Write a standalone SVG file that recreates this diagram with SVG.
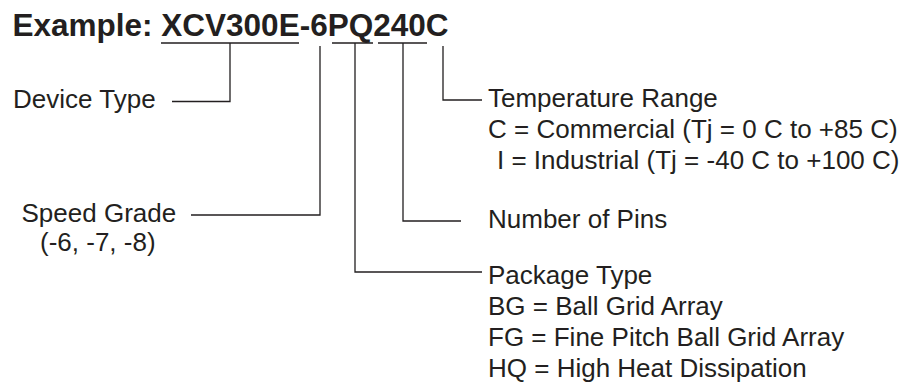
<svg xmlns="http://www.w3.org/2000/svg" width="912" height="384" viewBox="0 0 912 384">
<style>
.t{font-family:"Liberation Sans",Arial,sans-serif;font-size:26px;fill:#231f20}
.h{font-family:"Liberation Sans",Arial,sans-serif;font-size:31.5px;font-weight:bold;fill:#231f20}
.c{fill:none;stroke:#231f20;stroke-width:1.3}
</style>
<rect width="912" height="384" fill="#ffffff"/>
<g id="title"><text class="h" x="12.5" y="36">Example: XCV300E-6PQ240C</text></g>
<g id="connectors">
<path class="c" d="M161,43H299M230,43V101.5H172"/>
<path class="c" d="M320,46V215H191"/>
<path class="c" d="M332,43H373M355,43V272H482"/>
<path class="c" d="M378,43H427M403,43V221H461"/>
<path class="c" d="M443,46V100H482"/>
</g>
<g id="device-type"><text class="t" x="13" y="108">Device Type</text></g>
<g id="speed-grade"><text class="t" x="21.5" y="222">Speed Grade</text><text class="t" x="40" y="251">(-6, -7, -8)</text></g>
<g id="temperature-range"><text class="t" x="488" y="107">Temperature Range</text><text class="t" x="488" y="138">C = Commercial (Tj = 0 C to +85 C)</text><text class="t" x="497" y="169">I = Industrial (Tj = -40 C to +100 C)</text></g>
<g id="number-of-pins"><text class="t" x="488" y="228">Number of Pins</text></g>
<g id="package-type"><text class="t" x="488" y="284">Package Type</text><text class="t" x="488" y="315">BG = Ball Grid Array</text><text class="t" x="488" y="346">FG = Fine Pitch Ball Grid Array</text><text class="t" x="488" y="377">HQ = High Heat Dissipation</text></g>
</svg>
